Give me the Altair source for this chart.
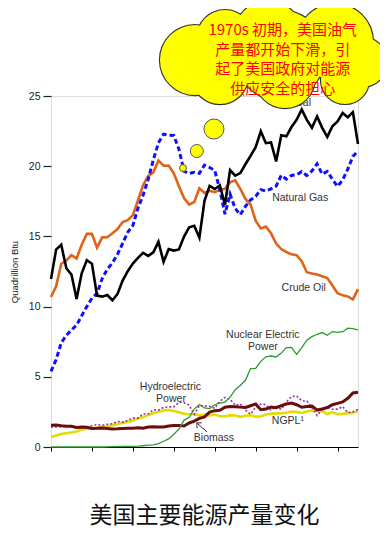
import altair as alt
import pandas as pd

# ---------------- data (quadrillion Btu), 1949-2009 ----------------
years = list(range(1949, 2010))

coal = [11.97, 14.06, 14.41, 12.73, 12.28, 10.54, 12.37, 13.31, 13.06, 10.78,
        10.71, 10.82, 10.45, 10.90, 11.85, 12.52, 13.06, 13.47, 13.83, 13.61,
        13.86, 14.61, 13.19, 14.09, 13.99, 14.07, 14.99, 15.65, 15.76, 14.91,
        17.54, 18.60, 18.38, 18.64, 17.25, 19.72, 19.33, 19.51, 20.14, 20.74,
        21.36, 22.49, 21.64, 21.69, 20.34, 22.20, 22.13, 22.79, 23.31, 24.05,
        23.30, 22.74, 23.55, 22.73, 22.09, 22.85, 23.19, 23.79, 23.49, 23.85,
        21.58]

natural_gas = [5.38, 6.23, 7.42, 7.96, 8.34, 8.68, 9.35, 10.00, 10.60, 10.94,
               12.00, 12.66, 13.11, 13.72, 14.51, 15.30, 15.78, 17.01, 17.94, 19.07,
               20.45, 21.67, 22.28, 22.21, 22.19, 21.21, 19.64, 19.48, 19.57, 19.49,
               20.08, 19.91, 19.70, 18.32, 16.59, 18.01, 16.98, 16.54, 17.14, 17.60,
               17.85, 18.33, 18.23, 18.38, 18.58, 19.35, 19.08, 19.34, 19.39, 19.61,
               19.34, 19.66, 20.17, 19.44, 19.63, 19.07, 18.56, 19.02, 19.79, 20.70,
               21.09]

crude_oil = [10.68, 11.45, 13.04, 13.28, 13.67, 13.43, 14.41, 15.18, 15.18, 14.20,
             14.93, 14.94, 15.22, 15.52, 16.02, 16.16, 16.52, 17.56, 18.65, 19.31,
             19.56, 20.40, 20.03, 20.04, 19.49, 18.57, 17.73, 17.26, 17.45, 18.43,
             18.10, 18.25, 18.15, 18.31, 18.39, 18.85, 18.99, 18.38, 17.67, 17.28,
             16.12, 15.57, 15.70, 15.22, 14.49, 14.10, 13.89, 13.72, 13.66, 13.24,
             12.45, 12.36, 12.28, 12.16, 12.03, 11.50, 10.96, 10.80, 10.72, 10.51,
             11.24]

ngpl = [0.71, 0.82, 0.93, 0.98, 1.03, 1.11, 1.24, 1.31, 1.34, 1.36,
        1.42, 1.46, 1.55, 1.63, 1.72, 1.78, 1.88, 2.02, 2.14, 2.27,
        2.41, 2.51, 2.60, 2.64, 2.57, 2.47, 2.37, 2.33, 2.33, 2.25,
        2.29, 2.25, 2.31, 2.19, 2.18, 2.27, 2.24, 2.15, 2.22, 2.26,
        2.16, 2.17, 2.31, 2.36, 2.41, 2.39, 2.44, 2.53, 2.50, 2.42,
        2.53, 2.61, 2.55, 2.56, 2.35, 2.47, 2.33, 2.36, 2.41, 2.42,
        2.57]

nuclear = [0.0, 0.0, 0.0, 0.0, 0.0, 0.0, 0.0, 0.0, 0.0, 0.0,
           0.0, 0.01, 0.02, 0.03, 0.04, 0.04, 0.04, 0.06, 0.09, 0.14,
           0.15, 0.24, 0.41, 0.58, 0.91, 1.27, 1.90, 2.11, 2.70, 3.02,
           2.78, 2.74, 3.01, 3.13, 3.20, 3.55, 4.08, 4.38, 4.75, 5.59,
           5.60, 6.10, 6.42, 6.48, 6.41, 6.69, 7.08, 7.09, 6.60, 7.07,
           7.61, 7.86, 8.03, 8.15, 7.96, 8.22, 8.16, 8.21, 8.46, 8.43,
           8.35]

hydro = [1.43, 1.42, 1.45, 1.50, 1.44, 1.36, 1.36, 1.43, 1.52, 1.59,
         1.55, 1.61, 1.66, 1.82, 1.77, 1.89, 2.06, 2.06, 2.35, 2.35,
         2.65, 2.63, 2.82, 2.86, 2.86, 3.18, 3.15, 2.98, 2.33, 2.94,
         2.93, 2.90, 2.76, 3.27, 3.53, 3.39, 2.97, 3.07, 2.63, 2.33,
         2.84, 3.05, 3.02, 2.62, 2.89, 2.68, 3.21, 3.59, 3.64, 3.30,
         3.27, 2.81, 2.24, 2.69, 2.82, 2.69, 2.70, 2.87, 2.45, 2.51,
         2.67]

biomass = [1.55, 1.56, 1.51, 1.47, 1.47, 1.39, 1.42, 1.40, 1.32, 1.33,
           1.35, 1.32, 1.29, 1.30, 1.32, 1.34, 1.34, 1.37, 1.34, 1.42,
           1.44, 1.43, 1.43, 1.50, 1.53, 1.54, 1.50, 1.71, 1.84, 2.04,
           2.15, 2.48, 2.59, 2.62, 2.83, 2.88, 2.86, 2.84, 2.82, 2.94,
           3.06, 2.66, 2.70, 2.85, 2.80, 2.94, 3.07, 3.13, 3.01, 2.83,
           2.89, 2.91, 2.64, 2.71, 2.81, 3.01, 3.11, 3.21, 3.47, 3.85,
           3.90]

y_ticks = [0, 5, 10, 15, 20, 25]

# series labels (text, year, value)
label_texts = ["Coal", "Natural Gas", "Crude Oil", "Nuclear Electric", "Power",
               "Hydroelectric", "Power", "Biomass", "NGPL\u00b9"]
label_years = [1997.7, 1997.7, 1998.4, 1990.4, 1990.4, 1972.35, 1972.45, 1980.85, 1995.3]
label_values = [24.5, 17.73, 11.32, 7.96, 7.1, 4.27, 3.42, 0.64, 1.85]

# callout (thought cloud): lobes in chart units
cloud_years = [1977.14, 1983.0, 1991.41, 2004.5, 2009.78, 2006.46, 1994.73, 1982.03, 1993.75]
cloud_values = [27.56, 29.13, 29.34, 28.85, 27.42, 26.14, 26.28, 26.42, 27.92]
cloud_sizes = [4900, 3136, 4624, 5776, 2500, 2304, 3600, 3136, 8100]
bubble_years = [1980.85, 1977.5, 1974.8]
bubble_values = [22.65, 21.08, 19.87]
bubble_sizes = [400, 169, 49]
cloud_text = ["1970s 初期，美国油气", "产量都开始下滑，引", "起了美国政府对能源", "供应安全的担心"]
chart_title = "美国主要能源产量变化"

# ---------------- build ----------------
df = pd.DataFrame({"year": years, "Coal": coal, "Natural Gas": natural_gas,
                   "Crude Oil": crude_oil, "NGPL": ngpl, "Nuclear": nuclear,
                   "Hydro": hydro, "Biomass": biomass})
long = df.melt("year", var_name="source", value_name="value")

FONT = "Liberation Sans"
CJK = "Noto Sans CJK SC"

xs = alt.Scale(domain=[1949, 2009], nice=False, zero=False)
ys = alt.Scale(domain=[0, 25], nice=False)

x_axis = alt.Axis(values=years, title=None, grid=False,
                  labelExpr="datum.value % 10 === 0 ? '' + datum.value : ''",
                  tickSize={"condition": {"test": "datum.value % 10 === 0", "value": 7}, "value": 4},
                  tickColor="black", domainColor="black", domainWidth=1.2, tickWidth=1,
                  labelFont=FONT, labelFontSize=10.5, labelColor="#222",
                  labelOverlap=False, labelFlush=False, labelPadding=7)
y_axis = alt.Axis(values=y_ticks, domain=False, grid=False, tickSize=8, tickColor="#222",
                  tickWidth=1.2, labelFont=FONT, labelFontSize=10.5, labelColor="#222",
                  labelPadding=3, title="Quadrillion Btu", titleFont=FONT, titleFontSize=9.5,
                  titleFontWeight="normal", titleColor="#222", titlePadding=9)

X = alt.X("year:Q", scale=xs, axis=x_axis)
Y = alt.Y("value:Q", scale=ys, axis=y_axis)


def line(src, color, width, dash=None):
    kw = dict(color=color, strokeWidth=width)
    if dash:
        kw["strokeDash"] = dash
    return alt.Chart(long).transform_filter(alt.datum.source == src).mark_line(**kw).encode(x=X, y=Y)


lines = [
    line("NGPL", "#e3dc00", 2.6),
    line("Hydro", "#9a2fa6", 1.6, [2, 2]),
    line("Biomass", "#6a0d0d", 3),
    line("Nuclear", "#2e9a2e", 1.3),
    line("Crude Oil", "#e0631a", 2.6),
    line("Natural Gas", "#1010ff", 3, [5, 3]),
    line("Coal", "#000000", 2.6),
]

labels_df = pd.DataFrame({"year": label_years, "value": label_values, "text": label_texts})
labels = alt.Chart(labels_df).mark_text(font=FONT, fontSize=10.5, color="#333").encode(
    x=X, y=Y, text="text:N")

arrow_df = pd.DataFrame({"year": [1979.5], "year2": [1977.5], "value": [1.07], "value2": [1.71]})
arrow_line = alt.Chart(arrow_df).mark_rule(color="#333", strokeWidth=1).encode(
    x=X, x2="year2:Q", y=Y, y2="value2:Q")
arrow_head = alt.Chart(arrow_df).mark_point(shape="M -1 1 L 0 0 L 1 1", filled=False, stroke="#333",
                                            strokeWidth=1, size=50, angle=312, opacity=1).encode(
    x=alt.X("year2:Q", scale=xs), y=alt.Y("value2:Q", scale=ys))

cloud_df = pd.DataFrame({"year": cloud_years, "value": cloud_values, "size": cloud_sizes})
cloud_outline = alt.Chart(cloud_df).mark_circle(color="#ffff00", stroke="#333", strokeWidth=2.2,
                                                opacity=1).encode(
    x=X, y=Y, size=alt.Size("size:Q", scale=None))
cloud_fill = alt.Chart(cloud_df).mark_circle(color="#ffff00", opacity=1).encode(
    x=X, y=Y, size=alt.Size("size:Q", scale=None))
bubble_df = pd.DataFrame({"year": bubble_years, "value": bubble_values, "size": bubble_sizes})
bubbles = alt.Chart(bubble_df).mark_circle(color="#ffff00", stroke="#555", strokeWidth=1,
                                           opacity=1).encode(
    x=X, y=Y, size=alt.Size("size:Q", scale=None))
# first line centred at the given point, following lines below it
ctext_df = pd.DataFrame({"year": [1994.3], "value": [29.7], "text": [cloud_text]})
ctext = alt.Chart(ctext_df).mark_text(font=CJK, fontSize=15, color="#ff0000", lineHeight=19.5,
                                      baseline="middle", align="center").encode(
    x=X, y=Y, text="text")

chart = alt.layer(*lines, labels, arrow_line, arrow_head, cloud_outline, cloud_fill, bubbles, ctext).properties(
    width=307, height=351,
    autosize=alt.AutoSizeParams(type="none"),
    padding={"left": 43, "top": 88, "right": 22, "bottom": 83},
    title=alt.TitleParams(chart_title, orient="bottom", anchor="middle", font=CJK, fontSize=23,
                          fontWeight="normal", color="#111", offset=36),
).configure_view(stroke=None).configure(background="white")

chart.save("out.html", embed_options={"renderer": "svg", "actions": False})
